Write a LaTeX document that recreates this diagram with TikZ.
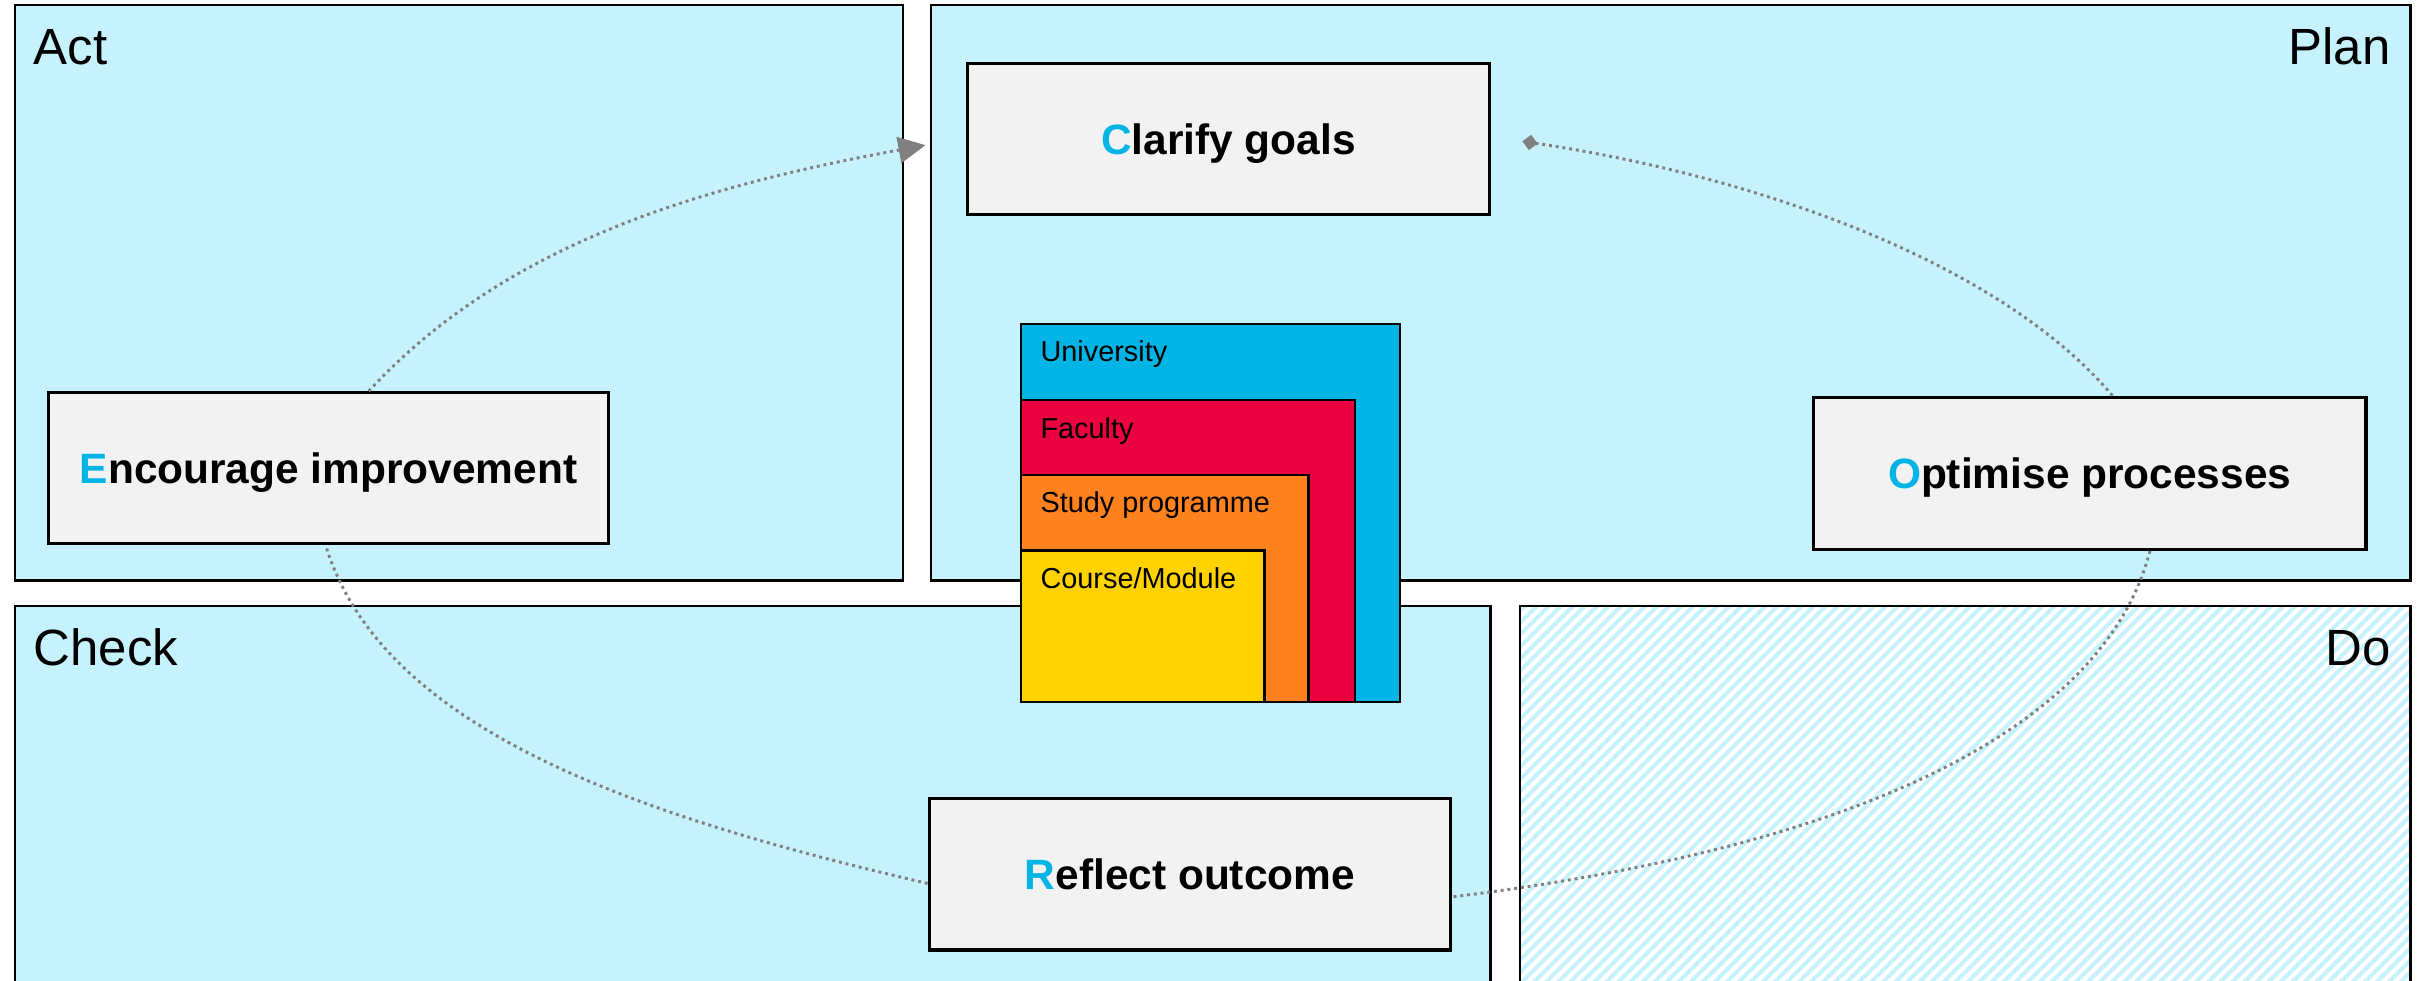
\documentclass[tikz,border=0pt]{standalone}
\usepackage{fontspec}
\setmainfont{Liberation Sans}
\usetikzlibrary{arrows.meta}
\definecolor{lcyan}{RGB}{198,242,254}
\definecolor{ublue}{RGB}{0,180,230}
\definecolor{fred}{RGB}{235,0,64}
\definecolor{sorange}{RGB}{255,130,30}
\definecolor{cyellow}{RGB}{255,210,0}
\definecolor{nodegray}{RGB}{242,242,242}
\definecolor{conngray}{RGB}{128,128,128}
\begin{document}
\begin{tikzpicture}[x=1pt,y=-1pt,
  zone/.style={draw=black, line width=1.5pt, fill=lcyan, inner sep=0, anchor=north west},
  zlabel/.style={font=\fontsize{33}{40}\selectfont, inner sep=0},
  stepnode/.style={draw=black, line width=2pt, fill=nodegray, inner sep=0,
    font=\bfseries\fontsize{27.5}{33}\selectfont, text height=19.7pt, text depth=0pt},
  sq/.style={draw=black, line width=1.5pt, inner sep=0, anchor=north west},
  sqlabel/.style={font=\fontsize{18.7}{22}\selectfont, inner sep=0, anchor=base west},
  conn/.style={draw=conngray, line width=1.9pt, dash pattern=on 1.9pt off 2.5pt}
]
\fill[white] (0,0) rectangle (1568,635);
\useasboundingbox (0,0) rectangle (1568,635);

% zones
\node[zone, minimum width=575.2, minimum height=372.8] (act) at (9.1,2.6) {};
\node[zone, minimum width=958.7, minimum height=372.8] (plan) at (602.3,2.6) {};
\node[zone, minimum width=955.9, minimum height=253] (check) at (9.1,392) {};
\begin{scope}
  \clip (984.2,392) rectangle (1561,645);
  \foreach \i in {0,...,112} \draw[lcyan, line width=2.6pt] ({715+\i*7.8},650) -- ++(300,-300);
\end{scope}
\node[zone, fill=none, minimum width=576.8, minimum height=253] (do) at (984.2,392) {};

\node[zlabel, anchor=base west] (actlbl) at (21.6,42.1) {Act};
\node[zlabel, anchor=base east] (planlbl) at (1549,42.1) {Plan};
\node[zlabel, anchor=base west] (checklbl) at (21.6,431.5) {Check};
\node[zlabel, anchor=base east] (dolbl) at (1549,431.5) {Do};

% nested levels
\node[sq, fill=ublue, minimum width=245.5, minimum height=245] (univ) at (661,209) {};
\node[sqlabel] (univlbl) at ([xshift=13,yshift=-25.3]univ.north west) {University};
\node[sq, fill=fred, minimum width=216, minimum height=195.5] (fac) at (661,258.5) {};
\node[sqlabel] (faclbl) at ([xshift=13,yshift=-25.3]fac.north west) {Faculty};
\node[sq, fill=sorange, minimum width=186, minimum height=147] (study) at (661,307) {};
\node[sqlabel] (studylbl) at ([xshift=13,yshift=-25.3]study.north west) {Study programme};
\node[sq, fill=cyellow, minimum width=157.5, minimum height=98] (course) at (661,356) {};
\node[sqlabel] (courselbl) at ([xshift=13,yshift=-25.3]course.north west) {Course/Module};

% steps
\node[stepnode, minimum width=338.2, minimum height=97.9] (clar) at (795.9,89.95) {\textcolor{ublue}{C}larify goals};
\node[stepnode, minimum width=363.2, minimum height=97.6] (enc) at (212.9,303.2) {\textcolor{ublue}{E}ncourage improvement};
\node[stepnode, minimum width=358, minimum height=98.3] (opt) at (1354,306.85) {\textcolor{ublue}{O}ptimise processes};
\node[stepnode, minimum width=338, minimum height=98.2] (refl) at (771,566.4) {\textcolor{ublue}{R}eflect outcome};

% connectors
\draw[conn, -{Triangle[length=17.5pt,width=17pt]}]
  ([xshift=26]enc.north) .. controls (327,158) and (453,121) .. ([xshift=-26.2,yshift=-4.1]clar.west);
\draw[conn, {Diamond[length=10pt,width=10pt]}-]
  ([xshift=20.4,yshift=-1.6]clar.east) .. controls (1143,115) and (1298,172) .. ([xshift=15]opt.north);
\draw[conn]
  ([xshift=39]opt.south) .. controls (1361.75,478.25) and (1188.1,551) .. ([yshift=-14.7]refl.east);
\draw[conn]
  ([yshift=-6]refl.west) .. controls (410,528) and (247,472) .. ([xshift=-2]enc.south);
\end{tikzpicture}
\end{document}
